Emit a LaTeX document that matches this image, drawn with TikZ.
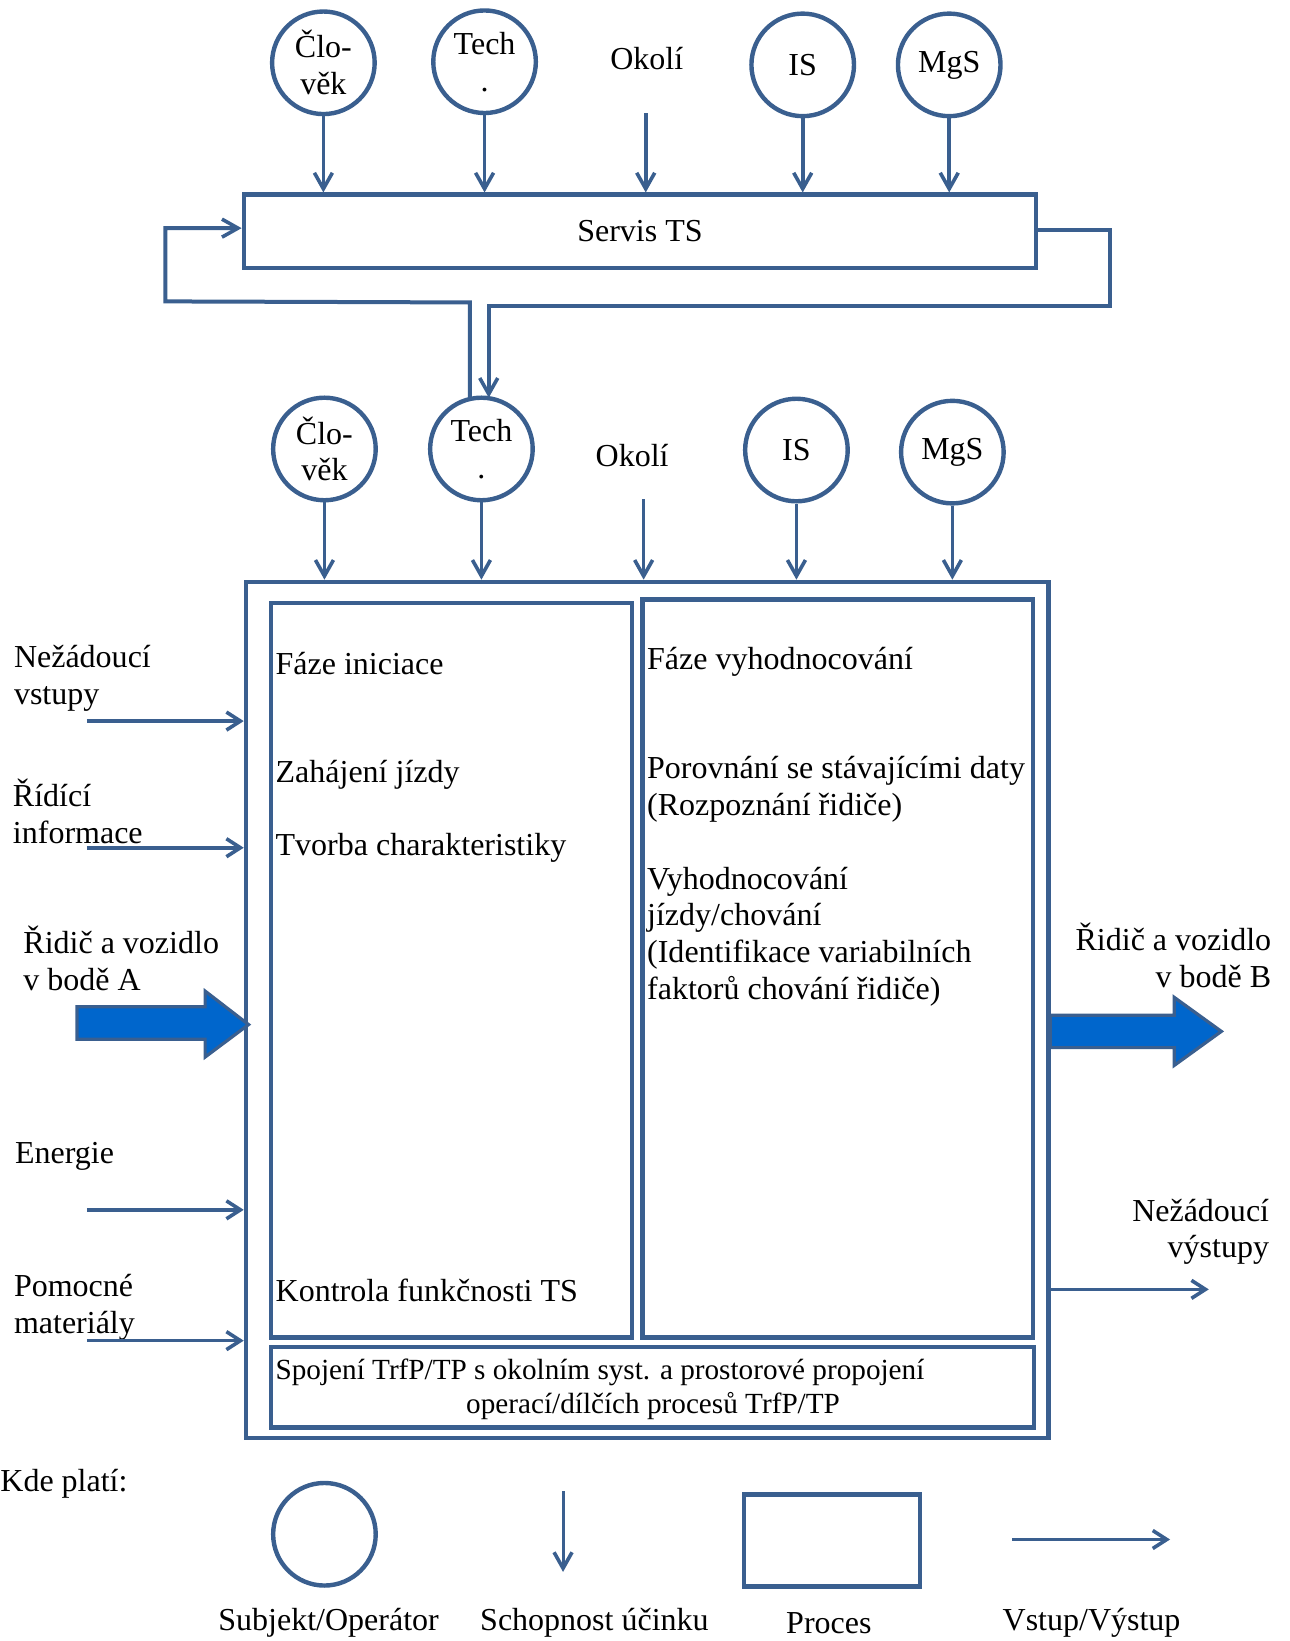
\documentclass[tikz,border=0pt]{standalone}
\usepackage{fontspec}
\setmainfont{Liberation Serif}
\usetikzlibrary{arrows.meta}
\definecolor{lineblue}{HTML}{3A5F8F}
\definecolor{fillblue}{HTML}{0066CC}
\newcommand\pxu{0.5232pt}
\begin{document}
\begin{tikzpicture}[x=0.5232pt, y=-0.5232pt,
  every node/.style={font=\fontsize{16}{18.4}\selectfont, inner sep=0pt},
  small/.style={font=\fontsize{14.6}{16.8}\selectfont},
  subj/.style={circle, draw=lineblue, line width=2.2pt, minimum size=98*\pxu, align=center},
  proc/.style={draw=lineblue, line width=2.2pt},
  eff/.style={draw=lineblue, line width=1.8pt, -{Straight Barb[length=8pt,width=9pt,line width=1.8pt]}},
  io/.style={draw=lineblue, line width=1.8pt, -{Straight Barb[length=7pt,width=9pt,line width=1.8pt]}},
  loop/.style={draw=lineblue, line width=2pt},
  bigarrow/.style={draw=lineblue, line width=1.6pt, fill=fillblue, line join=miter},
  lbl/.style={anchor=west, align=left},
  rlbl/.style={anchor=east, align=right}]
\useasboundingbox (0,0) rectangle (1232,1568);

% ---- upper level: service of the transport system ----
\node[subj] (c1) at (309,60) {Člo-\\věk};
\node[subj] (c2) at (463,59) {Tech\\.};
\node (ok1) at (618,56) {Okolí};
\node[subj] (c4) at (767,62) {IS};
\node[subj] (c5) at (907,62) {MgS};
\coordinate (ok1s) at (617,108);

\node[proc, minimum width=757*\pxu, minimum height=70*\pxu] (servis) at (611.5,221) {Servis TS};

\foreach \n in {c1,c2,c4,c5} \draw[eff] (\n.south) -- (\n.south |- servis.north);
\draw[eff] (ok1s) -- (ok1s |- servis.north);

% ---- lower level: subjects of the main process ----
\node[subj] (d1) at (310,429) {Člo-\\věk};
\node[subj] (d2) at (460,429) {Tech\\.};
\node (ok2) at (604,435) {Okolí};
\node[subj] (d4) at (761,430) {IS};
\node[subj] (d5) at (910,432) {MgS};
\coordinate (ok2s) at (615,477);

% feedback loops between the service and the technology subject
\coordinate (lp1) at (449,381);
\coordinate (lp2) at (467,380);
\draw[loop, -{Straight Barb[length=8pt,width=9pt,line width=1.8pt]}]
  (lp1) -- (449,289) -- (158,288) -- (158,218) -- (servis.west |- 0,218);
\draw[loop, -{Straight Barb[length=8pt,width=9pt,line width=1.8pt]}]
  (servis.east |- 0,220) -- (1061,220) -- (1061,292) -- (467,292) -- (lp2);

% ---- main process ----
\node[proc, minimum width=767*\pxu, minimum height=818*\pxu] (main) at (618.5,965) {};
\node[proc, minimum width=345*\pxu, minimum height=702*\pxu] (left) at (431.5,927) {};
\node[proc, minimum width=373*\pxu, minimum height=705*\pxu] (right) at (800.5,925.5) {};
\node[proc, minimum width=729*\pxu, minimum height=77*\pxu] (bottom) at (623.5,1325.5) {};

\foreach \n in {d1,d2,d4,d5} \draw[eff] (\n.south) -- (\n.south |- main.north);
\draw[eff] (ok2s) -- (ok2s |- main.north);

% phase texts
\node[lbl] (t1) at (263,634) {Fáze iniciace};
\node[lbl] (t2) at (263,740) {Zahájení jízdy};
\node[lbl] (t3) at (263,810) {Tvorba charakteristiky};
\node[lbl] (t4) at (263,1233) {Kontrola funkčnosti TS};
\node[lbl] (r1) at (618,632) {Fáze vyhodnocování};
\node[lbl] (r2) at (618,754) {Porovnání se stávajícími daty\\(Rozpoznání řidiče)};
\node[lbl] (r3) at (618,895) {Vyhodnocování\\jízdy/chování\\(Identifikace variabilních\\faktorů chování řidiče)};
\node[lbl, small] (b1) at (263,1311) {Spojení TrfP/TP s okolním syst. a prostorové propojení};
\node[small] (b2) at (624,1343) {operací/dílčích procesů TrfP/TP};

% ---- inputs ----
\node[lbl] (i1) at (13,648) {Nežádoucí\\vstupy};
\node[lbl] (i2) at (12,775) {Řídící\\informace};
\node[lbl] (i3) at (22,916) {Řidič a vozidlo\\v bodě A};
\node[lbl] (i4) at (14,1105) {Energie};
\node[lbl] (i5) at (13,1249) {Pomocné\\materiály};
\coordinate (a1) at (83,689);
\coordinate (a2) at (83,810);
\coordinate (a4) at (83,1156);
\coordinate (a5) at (83,1281);
\foreach \c in {a1,a2,a4,a5} \draw[io] (\c) -- (\c -| main.west);

\draw[bigarrow] (73.5,962) -- (196,962) -- (196,947) -- (237.5,979)
  -- (196,1010) -- (196,993) -- (73.5,993) -- cycle;

% ---- outputs ----
\node[rlbl] (o1) at (1215,913) {Řidič a vozidlo\\v bodě B};
\node[rlbl] (o2) at (1213,1177) {Nežádoucí\\výstupy};
\draw[bigarrow] (1003.5,970) -- (1122,970) -- (1122,953) -- (1167,985.5)
  -- (1122,1018) -- (1122,1001) -- (1003.5,1001) -- cycle;
\coordinate (e1) at (main.east |- 0,1232);
\coordinate (e2) at (1155,1232);
\draw[io] (e1) -- (e2);

% ---- legend ----
\node[lbl] (kde) at (0,1418) {Kde platí:};
\node[subj] (ls) at (310,1466) {};
\coordinate (la1) at (538,1425);
\coordinate (la2) at (538,1502);
\draw[eff, line width=1.5pt] (la1) -- (la2);
\node[proc, minimum width=168*\pxu, minimum height=88*\pxu] (lp) at (795,1472) {};
\coordinate (lio1) at (967,1471);
\coordinate (lio2) at (1118,1471);
\draw[io] (lio1) -- (lio2);
\node (l1) at (314,1551) {Subjekt/Operátor};
\node (l2) at (568,1551) {Schopnost účinku};
\node (l3) at (792,1551) {Proces};
\node (l4) at (1043,1551) {Vstup/Výstup};
\end{tikzpicture}
\end{document}
